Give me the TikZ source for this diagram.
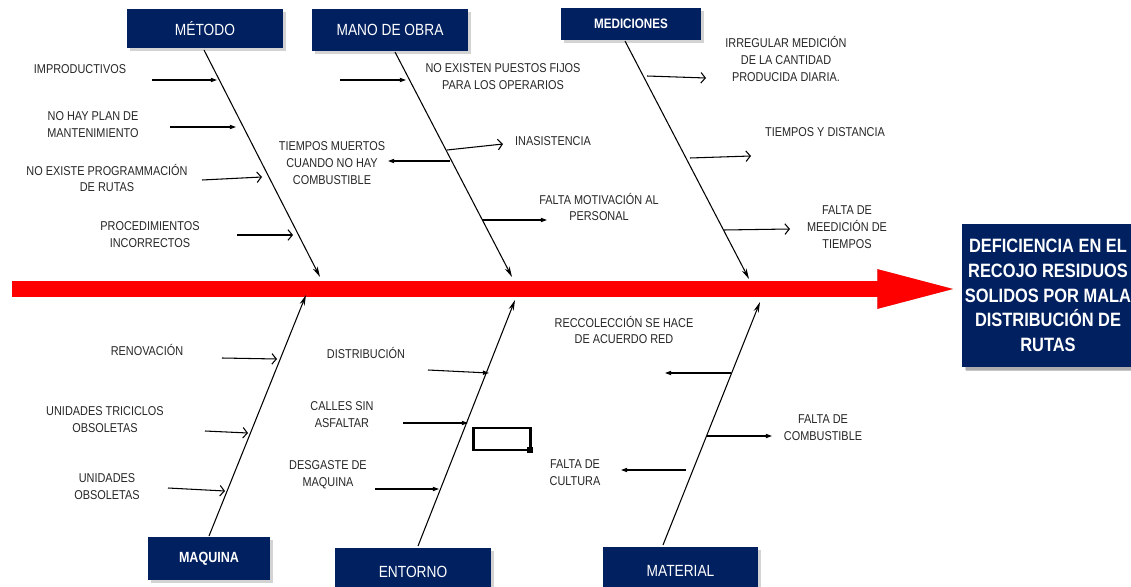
\documentclass[tikz,border=0pt]{standalone}
\usepackage{fontspec}
\setmainfont{Liberation Sans}[FakeStretch=0.85]
\usepackage{tikz}
\usetikzlibrary{arrows.meta}
\usetikzlibrary{shadows}

\definecolor{navy}{HTML}{002060}

\tikzset{
  catbox/.style={fill=navy, text=white, inner sep=0pt,
    drop shadow={shadow xshift=1.5pt, shadow yshift=-1.5pt, opacity=.35},
    font=\fontsize{9.2}{11}\selectfont},
  cause/.style={align=center, inner sep=0pt, text=black!85,
    font=\fontsize{7.3}{9.6}\selectfont},
  spine/.style={line width=0.6pt, -{Stealth[length=6pt,width=3pt]}},
  tri/.style={line width=0.6pt, -{Triangle[length=3.5pt,width=2.4pt]}},
  barb/.style={line width=0.6pt, -{Straight Barb[length=2.5pt,width=6pt]}},
  mainarrow/.style={line width=9pt, -{Triangle[length=48pt,width=19.5pt]}}
}

\begin{document}
\begin{tikzpicture}[x=0.02cm, y=-0.02cm]
\useasboundingbox (0,0) rectangle (1131,587);

% categories and effect
\node[catbox, minimum width=3.12cm, minimum height=0.78cm] (met) at (205,28.5) {MÉTODO};
\node[catbox, minimum width=3.12cm, minimum height=0.84cm] (mano) at (390,30) {MANO DE OBRA};
\node[catbox, minimum width=2.8cm, minimum height=0.64cm, font=\fontsize{7.8}{9}\selectfont\bfseries] (med) at (631,24) {MEDICIONES};
\node[catbox, minimum width=2.44cm, minimum height=0.86cm, font=\fontsize{8.4}{10}\selectfont\bfseries] (maq) at (209,558.5) {MAQUINA};
\node[catbox, minimum width=3.12cm, minimum height=0.96cm] (ent) at (413,572) {ENTORNO};
\node[catbox, minimum width=3.1cm, minimum height=0.96cm] (mat) at (680.5,571) {MATERIAL};
\node[catbox, minimum width=3.44cm, minimum height=2.86cm, align=center,
  drop shadow={shadow xshift=2pt, shadow yshift=-2pt, opacity=.45},
  font=\fontsize{11}{14}\selectfont\bfseries] (efecto) at (1048,295.5)
  {DEFICIENCIA EN EL\\RECOJO RESIDUOS\\SOLIDOS POR MALA\\DISTRIBUCIÓN DE\\RUTAS};

% main arrow
\coordinate (tail) at (12,289);
\draw[mainarrow, draw=black, fill=black, opacity=.25, shift={(1,2.5)}] (tail) -- (tail -| efecto.west);
\draw[mainarrow, draw=red, fill=red] (tail) -- (tail -| efecto.west);

% spines
\coordinate (met-top) at (204,50);
\coordinate (met-end) at (320,277);
\coordinate (mano-top) at (395,52);
\coordinate (mano-end) at (512,277);
\coordinate (med-top) at (625,41);
\coordinate (med-end) at (749,279);
\coordinate (maq-top) at (209,536);
\coordinate (maq-end) at (306,295);
\coordinate (ent-top) at (418,546);
\coordinate (ent-end) at (515,300);
\coordinate (mat-top) at (663,545);
\coordinate (mat-end) at (760,302);
\draw[spine] (met-top) to (met-end);
\draw[spine] (mano-top) to (mano-end);
\draw[spine] (med-top) to (med-end);
\draw[spine] (maq-top) to (maq-end);
\draw[spine] (ent-top) to (ent-end);
\draw[spine] (mat-top) to (mat-end);

% labels causes
\node[cause] (c11) at (80,69) {IMPRODUCTIVOS};
\node[cause] (c12) at (93,125) {NO HAY PLAN DE\\MANTENIMIENTO};
\node[cause] (c13) at (107,178) {NO EXISTE PROGRAMMACIÓN\\DE RUTAS};
\node[cause] (c14) at (150,235) {PROCEDIMIENTOS\\INCORRECTOS};
\node[cause] (c21) at (503,77) {NO EXISTEN PUESTOS FIJOS\\PARA LOS OPERARIOS};
\node[cause] (c22) at (553,141) {INASISTENCIA};
\node[cause] (c23) at (332,163) {TIEMPOS MUERTOS\\CUANDO NO HAY\\COMBUSTIBLE};
\node[cause] (c24) at (599,207) {FALTA MOTIVACIÓN AL\\PERSONAL};
\node[cause] (c31) at (786,59) {IRREGULAR MEDICIÓN\\DE LA CANTIDAD\\PRODUCIDA DIARIA.};
\node[cause] (c32) at (825,132) {TIEMPOS Y DISTANCIA};
\node[cause] (c33) at (847,227) {FALTA DE\\MEEDICIÓN DE\\TIEMPOS};
\node[cause] (c41) at (147,350) {RENOVACIÓN};
\node[cause] (c42) at (105,420) {UNIDADES TRICICLOS\\OBSOLETAS};
\node[cause] (c43) at (107,487) {UNIDADES\\OBSOLETAS};
\node[cause] (c51) at (366,353) {DISTRIBUCIÓN};
\node[cause] (c52) at (342,415) {CALLES SIN\\ASFALTAR};
\node[cause] (c53) at (328,475) {DESGASTE DE\\MAQUINA};
\node[cause] (c61) at (624,330) {RECCOLECCIÓN SE HACE\\DE ACUERDO RED};
\node[cause] (c62) at (823,428) {FALTA DE\\COMBUSTIBLE};
\node[cause] (c63) at (575,473) {FALTA DE\\CULTURA};

% draws branches
\coordinate (a11) at (152,80);  \coordinate (e11) at (217,80);
\coordinate (a12) at (170,127); \coordinate (e12) at (236,127);
\coordinate (a13) at (202,180); \coordinate (e13) at (262,177);
\coordinate (a14) at (237,235); \coordinate (e14) at (293,235);
\coordinate (a21) at (340,80);  \coordinate (e21) at (406,80);
\coordinate (a22) at (447,150); \coordinate (e22) at (503,144);
\coordinate (a23) at (450,161); \coordinate (e23) at (388,161);
\coordinate (a24) at (482,220); \coordinate (e24) at (547,220);
\coordinate (a31) at (647,76);  \coordinate (e31) at (706,78);
\coordinate (a32) at (690,158); \coordinate (e32) at (751,156);
\coordinate (a33) at (724,230); \coordinate (e33) at (790,229);
\coordinate (a41) at (222,358); \coordinate (e41) at (277,359);
\coordinate (a42) at (205,431); \coordinate (e42) at (248,433);
\coordinate (a43) at (168,488); \coordinate (e43) at (225,491);
\coordinate (a51) at (428,370); \coordinate (e51) at (489,373);
\coordinate (a52) at (403,423); \coordinate (e52) at (468,423);
\coordinate (a53) at (375,489); \coordinate (e53) at (439,489);
\coordinate (a61) at (731,373); \coordinate (e61) at (665,373);
\coordinate (a62) at (707,436); \coordinate (e62) at (772,436);
\coordinate (a63) at (686,470); \coordinate (e63) at (621,470);
\draw[tri] (a11) to (e11);
\draw[tri] (a12) to (e12);
\draw[barb] (a13) to (e13);
\draw[barb] (a14) to (e14);
\draw[tri] (a21) to (e21);
\draw[barb] (a22) to (e22);
\draw[tri] (a23) to (e23);
\draw[tri] (a24) to (e24);
\draw[barb] (a31) to (e31);
\draw[barb] (a32) to (e32);
\draw[barb] (a33) to (e33);
\draw[barb] (a41) to (e41);
\draw[barb] (a42) to (e42);
\draw[barb] (a43) to (e43);
\draw[tri] (a51) to (e51);
\draw[tri] (a52) to (e52);
\draw[tri] (a53) to (e53);
\draw[tri] (a61) to (e61);
\draw[tri] (a62) to (e62);
\draw[tri] (a63) to (e63);

% selection box
\draw[line width=1.7pt] (473,428) rectangle (530,450);
\fill (527,447) rectangle (533,453);
\end{tikzpicture}
\end{document}
